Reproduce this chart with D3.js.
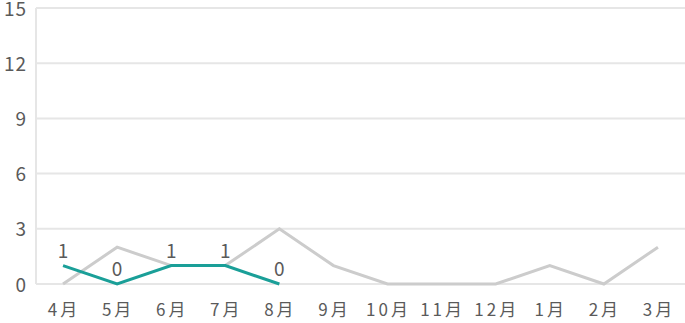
<!DOCTYPE html>
<meta charset="utf-8">
<style>
body { margin: 0; background: #fff; }
text { font-family: "Noto Sans CJK JP", "Noto Sans", sans-serif; fill: #5a5a5a; }
</style>
<svg width="685" height="323"></svg>
<script src="https://cdn.jsdelivr.net/npm/d3@7"></script>
<script>

var months = ["4月", "5月", "6月", "7月", "8月", "9月", "10月", "11月", "12月", "1月", "2月", "3月"];
var lastYear = [0, 2, 1, 1, 3, 1, 0, 0, 0, 1, 0, 2];
var thisYear = [1, 0, 1, 1, 0];
var yTicks = [0, 3, 6, 9, 12, 15];

var svg = d3.select("svg"),
    margin = {top: 8, right: 0, bottom: 39, left: 36},
    width = +svg.attr("width") - margin.left - margin.right,
    height = +svg.attr("height") - margin.top - margin.bottom;

var g = svg.append("g")
    .attr("transform", "translate(" + margin.left + "," + margin.top + ")");

var x = d3.scaleBand()
    .domain(months)
    .range([0, width]);

var y = d3.scaleLinear()
    .domain([0, 15])
    .range([height, 0]);

// grid
g.append("g")
  .selectAll("line")
  .data(yTicks)
  .enter().append("line")
    .attr("x1", 0)
    .attr("x2", width)
    .attr("y1", function(d) { return y(d); })
    .attr("y2", function(d) { return y(d); })
    .attr("stroke", "#e6e6e6")
    .attr("stroke-width", 2);

g.append("line")
    .attr("x1", 0).attr("x2", 0)
    .attr("y1", 0).attr("y2", height)
    .attr("stroke", "#e6e6e6")
    .attr("stroke-width", 2);

// y labels
g.append("g")
  .selectAll("text")
  .data(yTicks)
  .enter().append("text")
    .attr("x", -9)
    .attr("y", function(d) { return y(d); })
    .attr("dy", "0.4em")
    .attr("text-anchor", "end")
    .attr("font-size", 19)
    .attr("letter-spacing", 1)
    .text(function(d) { return d; });

// x labels
g.append("g")
  .selectAll("text")
  .data(months)
  .enter().append("text")
    .attr("x", function(d) { return x(d) + x.bandwidth() / 2 + 1; })
    .attr("y", height + 32)
    .attr("text-anchor", "middle")
    .attr("font-size", 17)
    .attr("letter-spacing", 3)
    .text(function(d) { return d; });

var line = d3.line()
    .x(function(d, i) { return x(months[i]) + x.bandwidth() / 2; })
    .y(function(d) { return y(d); });

g.append("path")
    .datum(lastYear)
    .attr("fill", "none")
    .attr("stroke", "#cccccc")
    .attr("stroke-width", 3)
    .attr("d", line);

g.append("path")
    .datum(thisYear)
    .attr("fill", "none")
    .attr("stroke", "#1a9f98")
    .attr("stroke-width", 3)
    .attr("d", line);

g.append("g")
  .selectAll("text")
  .data(thisYear)
  .enter().append("text")
    .attr("x", function(d, i) { return x(months[i]) + x.bandwidth() / 2; })
    .attr("y", function(d) { return y(d) - 8; })
    .attr("text-anchor", "middle")
    .attr("font-size", 19)
    .text(function(d) { return d; });

</script>
